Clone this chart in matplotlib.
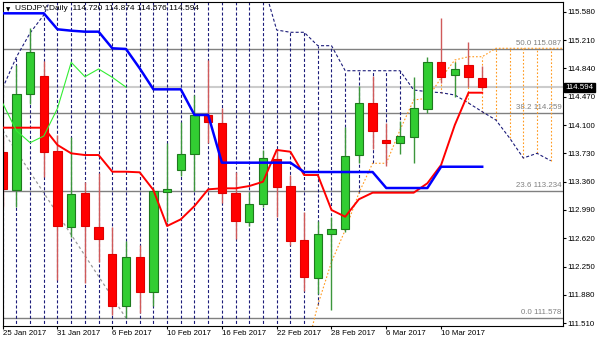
import matplotlib
matplotlib.use('Agg')
import matplotlib.pyplot as plt
from matplotlib.transforms import blended_transform_factory
import numpy as np

plt.rcParams['font.family'] = ['Liberation Sans', 'DejaVu Sans']
plt.rcParams['lines.scale_dashes'] = False

# USDJPY daily candles, 25 Jan 2017 .. 15 Mar 2017 (bar index 0..35)
opens = [113.751, 113.249, 114.505, 114.736, 113.760, 112.772, 113.208, 112.772, 112.415, 111.736,
         112.380, 111.923, 113.221, 113.512, 113.717, 114.231, 114.130, 113.208, 112.829, 113.064,
         113.656, 113.303, 112.598, 112.098, 112.672, 112.738, 113.704, 114.384, 113.904, 113.869,
         113.947, 114.305, 114.927, 114.753, 114.884, 114.720]
highs = [113.950, 114.884, 115.363, 114.936, 113.970, 113.947, 113.359, 113.469, 112.772, 112.589,
         112.533, 113.277, 113.861, 114.143, 114.492, 114.949, 114.318, 113.490, 113.229, 113.774,
         113.774, 113.447, 112.960, 112.850, 112.902, 114.078, 114.610, 114.740, 114.122, 114.156,
         114.731, 114.992, 115.494, 114.927, 115.180, 114.874]
lows = [113.033, 113.033, 114.374, 113.425, 112.076, 112.641, 112.040, 112.315, 111.619, 111.578,
        111.641, 111.736, 112.833, 113.438, 113.242, 113.861, 113.077, 112.607, 112.781, 113.033,
        112.902, 112.533, 111.936, 111.893, 111.684, 112.706, 113.600, 113.787, 113.564, 113.721,
        113.600, 114.261, 114.645, 114.470, 114.600, 114.576]
closes = [113.264, 114.501, 115.058, 113.751, 112.785, 113.199, 112.785, 112.607, 111.736, 112.380,
          111.923, 113.238, 113.260, 113.717, 114.231, 114.135, 113.216, 112.850, 113.064, 113.673,
          113.294, 112.589, 112.111, 112.672, 112.738, 113.699, 114.384, 114.026, 113.869, 113.956,
          114.318, 114.919, 114.731, 114.832, 114.723, 114.594]

# ichimoku lines
tenkan = [114.065, 114.065, 114.065, 114.065, 113.839, 113.730, 113.708, 113.708, 113.490, 113.490,
          113.482, 113.251, 112.781, 112.868, 113.042, 113.260, 113.273, 113.273, 113.303, 113.359,
          113.774, 113.751, 113.447, 113.447, 112.990, 112.902, 113.130, 113.216, 113.216, 113.216,
          113.216, 113.339, 113.578, 114.100, 114.522, 114.522]
kijun = [115.559, 115.559, 115.559, 115.559, 115.350, 115.332, 115.319, 115.319, 115.102, 115.093,
         114.840, 114.566, 114.566, 114.566, 114.231, 114.231, 113.608, 113.608, 113.608, 113.608,
         113.608, 113.608, 113.486, 113.486, 113.486, 113.486, 113.486, 113.486, 113.277, 113.277,
         113.277, 113.277, 113.555, 113.555, 113.555, 113.555]
# senkou spans (bars 0..41), values off the visible range are estimates
span_a = [111.0, 111.0, 111.0, 111.0, 111.0, 111.0, 111.0, 111.0, 111.0, 111.0,
          111.0, 111.0, 111.0, 111.0, 111.0, 111.0, 111.0, 111.0, 111.0, 111.0,
          111.0, 111.0, 111.03, 111.749, 112.311, 112.728, 113.212, 113.600, 113.600, 114.035,
          114.427, 114.449, 114.714, 114.949, 114.992, 114.992, 115.102, 115.102, 115.102, 115.102,
          115.102, 115.102]
span_b = [114.583, 114.988, 115.302, 115.537, 115.96, 115.96, 115.96, 115.96, 115.96, 115.96,
          115.96, 115.96, 115.96, 115.96, 115.96, 115.96, 115.96, 115.96, 115.96, 115.96,
          115.341, 115.311, 115.311, 115.136, 115.136, 114.809, 114.809, 114.809, 114.809, 114.809,
          114.557, 114.535, 114.522, 114.492, 114.387, 114.274, 114.165, 113.930, 113.669, 113.730,
          113.634, np.nan]

fib_levels = [0.0, 23.6, 38.2, 50.0]
fib_prices = [111.578, 113.234, 114.259, 115.087]
fib_line_x = [0, 9]
fib_line_y = [114.03, 111.578]

yticks = [115.580, 115.210, 114.840, 114.470, 114.100, 113.730, 113.360,
          112.990, 112.620, 112.250, 111.880, 111.510]
date_bars = [0, 4, 8, 12, 16, 20, 24, 28, 32]
dates = ['25 Jan 2017', '31 Jan 2017', '6 Feb 2017', '10 Feb 2017', '16 Feb 2017',
         '22 Feb 2017', '28 Feb 2017', '6 Mar 2017', '10 Mar 2017']

navy = '#1c1c7a'
orange = '#ff9a1f'
fs = 5.7

fig = plt.figure(figsize=(6, 3.43), dpi=100)
ax = fig.add_axes([2.7 / 600, 17.3 / 343, 560 / 600, 324 / 343])
ax.set_xlim(0, 560 / 13.7)
ax.set_ylim(111.4787, 115.7106)
bt = blended_transform_factory(ax.transAxes, ax.transData)

# fibonacci levels and bid line
for lv, p in zip(fib_levels, fib_prices):
    ax.axhline(p, color='#808080', lw=1, zorder=1)
    ax.text(0.998, p + 0.03, f'{lv:.1f} {p:.3f}', transform=bt, ha='right', va='bottom',
            color='#808080', fontsize=fs, zorder=1)
ax.axhline(closes[-1], color='#cccccc', lw=1.5, zorder=0.9)
ax.plot(fib_line_x, fib_line_y, color='#999999', lw=0.9, dashes=(2, 2), zorder=1)

# cloud hatching
for i in range(len(span_a)):
    a, b = span_a[i], span_b[i]
    if np.isnan(a) or np.isnan(b):
        continue
    if b >= a:
        ax.plot([i, i], [a, b], color=navy, lw=0.8, dashes=(2.2, 1.5), zorder=1.5)
    else:
        ax.plot([i, i], [b, a], color=orange, lw=0.8, dashes=(1.2, 1.4), zorder=1.5)
xs = np.arange(len(span_a))
ax.plot(xs, span_b, color=navy, lw=0.8, dashes=(2.2, 1.5), zorder=1.6)
ax.plot(xs, span_a, color=orange, lw=0.8, dashes=(1.2, 1.4), zorder=1.6)

# candles
x = np.arange(len(closes))
up = [c >= o for o, c in zip(opens, closes)]
wick_c = ['#3c963c' if u else '#d05a5a' for u in up]
fill_c = ['#32cd32' if u else '#ff0000' for u in up]
edge_c = ['#1e7a1e' if u else '#e00000' for u in up]
bottoms = [min(o, c) for o, c in zip(opens, closes)]
heights = [max(abs(c - o), 0.015) for o, c in zip(opens, closes)]
ax.vlines(x, lows, highs, colors=wick_c, lw=1, zorder=2)
ax.bar(x, heights, bottom=bottoms, width=0.6, color=fill_c, edgecolor=edge_c, lw=0.8, zorder=2.5)

# tenkan, kijun, chikou
ax.plot(x, tenkan, color='#ff0000', lw=1.4, zorder=3)
ax.plot(x, kijun, color='#0000ff', lw=1.8, zorder=3)
chikou = closes[26:]
ax.plot(np.arange(len(chikou)), chikou, color='#33ee33', lw=0.8, zorder=3)

# axes styling
ax.yaxis.tick_right()
ax.set_yticks(yticks)
ax.set_yticklabels([f'{v:.3f}' for v in yticks])
ax.tick_params(axis='y', direction='out', length=2.2, width=0.8, pad=1.5, labelsize=fs)
ax.set_xticks(date_bars)
ax.set_xticklabels(dates, ha='left')
ax.tick_params(axis='x', direction='out', length=2.2, width=0.8, pad=1, labelsize=fs)
for s in ax.spines.values():
    s.set_linewidth(0.8)
    s.set_color('black')

ax.text(1.005, closes[-1], f'{closes[-1]:.3f}', transform=bt, color='white', fontsize=fs,
        va='center', ha='left', clip_on=False, zorder=5,
        bbox=dict(boxstyle='square,pad=0.15', fc='black', ec='black'))

fig.text(8.5 / 600, 1 - 9.5 / 343, '▼', fontsize=4, family='DejaVu Sans', ha='center', va='center')
fig.text(15 / 600, 1 - 9 / 343,
         f'USDJPY,Daily  {opens[-1]:.3f} {highs[-1]:.3f} {lows[-1]:.3f} {closes[-1]:.3f}',
         fontsize=6, va='center')

fig.savefig('out.png', dpi=100)
